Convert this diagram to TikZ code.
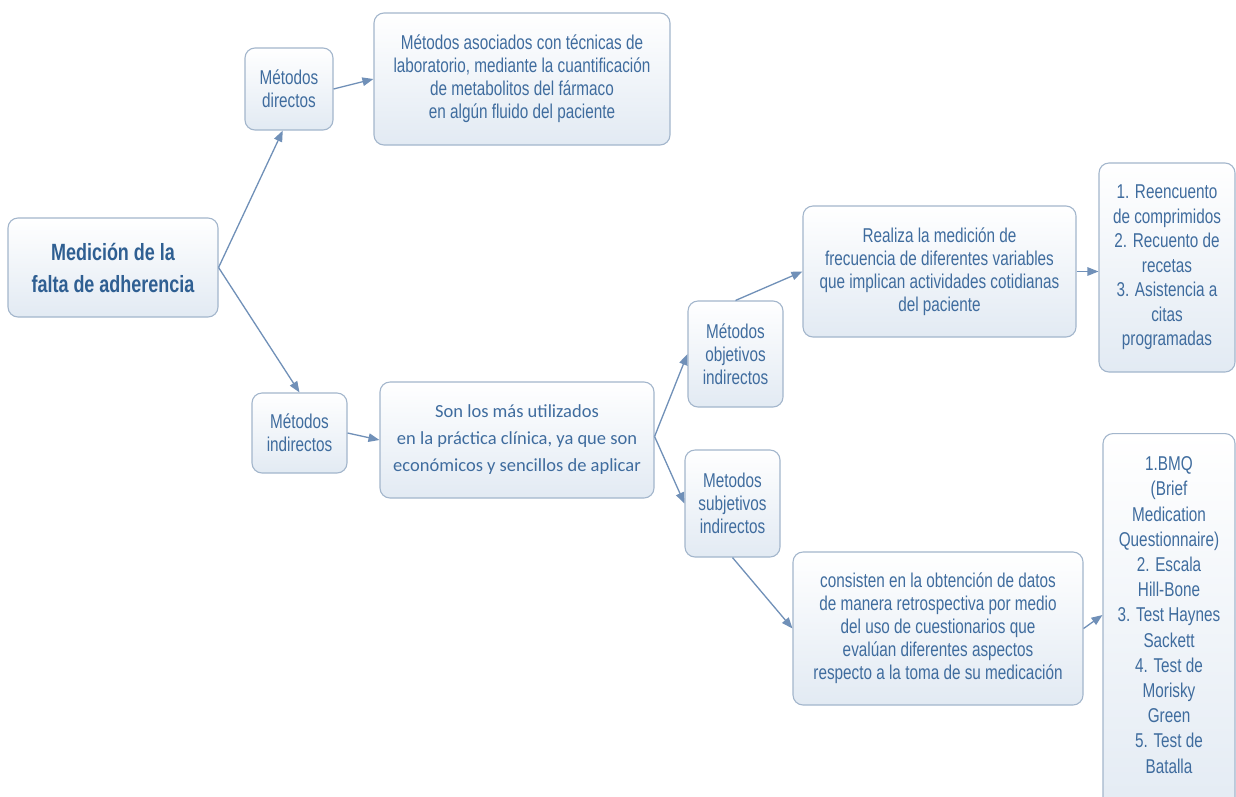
\documentclass[tikz,border=0pt]{standalone}
\usepackage{fontspec}
\setmainfont{Liberation Sans}[FakeStretch=0.765]
\newfontfamily\calib{Carlito}
\usetikzlibrary{arrows.meta,calc}
\definecolor{txt}{HTML}{3F6C9E}
\definecolor{roottxt}{HTML}{2F5F92}
\definecolor{bord}{HTML}{A3B6CC}
\definecolor{boxbot}{HTML}{E2EAF3}
\definecolor{arr}{HTML}{7090B8}
\tikzset{
  box/.style={rectangle, rounded corners=10pt, draw=bord, line width=1.1pt,
    top color=white, bottom color=boxbot, text=txt, align=center, inner sep=0pt,
    font=\fontsize{20}{23}\selectfont},
  conn/.style={draw=arr, line width=1.3pt, -{Triangle[length=11pt,width=8.5pt]}},
  plain/.style={text=txt, align=center, inner sep=0pt}
}
\begin{document}
\begin{tikzpicture}[x=1pt,y=-1pt]
\useasboundingbox (0,0) rectangle (1236,796);
\clip (0,0) rectangle (1236,796);
\fill[white] (0,0) rectangle (1236,796);

\node[box, minimum width=210pt, minimum height=99pt, text=roottxt,
      font=\fontsize{23.5}{32}\selectfont\bfseries] (root) at (113,267.5)
  {Medición de la\\falta de adherencia};

\node[box, minimum width=88pt, minimum height=82pt] (dir) at (289,89)
  {Métodos\\directos};
\node[box, minimum width=296pt, minimum height=132pt] (lab) at (522,79)
  {Métodos asociados con técnicas de\\laboratorio, mediante la cuantificación\\de metabolitos del fármaco\\en algún fluido del paciente};

\node[box, minimum width=95pt, minimum height=80pt] (ind) at (299.5,433)
  {Métodos\\indirectos};
\node[box, minimum width=274pt, minimum height=116pt,
      font=\calib\fontsize{18.5}{27}\selectfont] (son) at (517,440)
  {Son los más utilizados\\en la práctica clínica, ya que son\\económicos y sencillos de aplicar};

\node[box, minimum width=95pt, minimum height=106pt] (obj) at (735.5,354)
  {Métodos\\objetivos\\indirectos};
\node[box, minimum width=95pt, minimum height=107pt] (sub) at (732.5,503.5)
  {Metodos\\subjetivos\\indirectos};

\node[box, minimum width=273pt, minimum height=131pt] (real) at (939.5,271.5)
  {Realiza la medición de\\frecuencia de diferentes variables\\que implican actividades cotidianas\\del paciente};
\node[box, minimum width=136pt, minimum height=209pt,
      font=\fontsize{20}{24.5}\selectfont] (l1) at (1167,267.5)
  {1. Reencuento\\de comprimidos\\2. Recuento de\\recetas\\3. Asistencia a\\citas\\programadas};

\node[box, minimum width=290pt, minimum height=153pt] (cons) at (938,628.5)
  {consisten en la obtención de datos\\de manera retrospectiva por medio\\del uso de cuestionarios que\\evalúan diferentes aspectos\\respecto a la toma de su medicación};

\node[box, minimum width=132pt, minimum height=400pt, anchor=north] (l2) at (1169,433) {};
\node[plain, font=\fontsize{20}{25.2}\selectfont] (l2t) at (1169,615)
  {1.BMQ\\(Brief\\Medication\\Questionnaire)\\2. Escala\\Hill-Bone\\3. Test Haynes\\Sackett\\4. Test de\\Morisky\\Green\\5. Test de\\Batalla};

\draw[conn] (root.east) -- ($(dir.south west)!0.43!(dir.south east)$);
\draw[conn] (root.east) -- (ind.north);
\draw[conn] (dir.east) -- (lab.west);
\draw[conn] (ind.east) -- (son.west);
\draw[conn] ($(son.north east)!0.47!(son.south east)$) -- (obj.west);
\draw[conn] ($(son.north east)!0.47!(son.south east)$) -- (sub.west);
\draw[conn] (obj.north) -- (real.west);
\draw[conn] (real.east) -- (l1.west |- real.east);
\draw[conn] (sub.south) -- (cons.west);
\draw[conn] (cons.east) -- ($(l2.north west)+(0,182)$);
\end{tikzpicture}
\end{document}
